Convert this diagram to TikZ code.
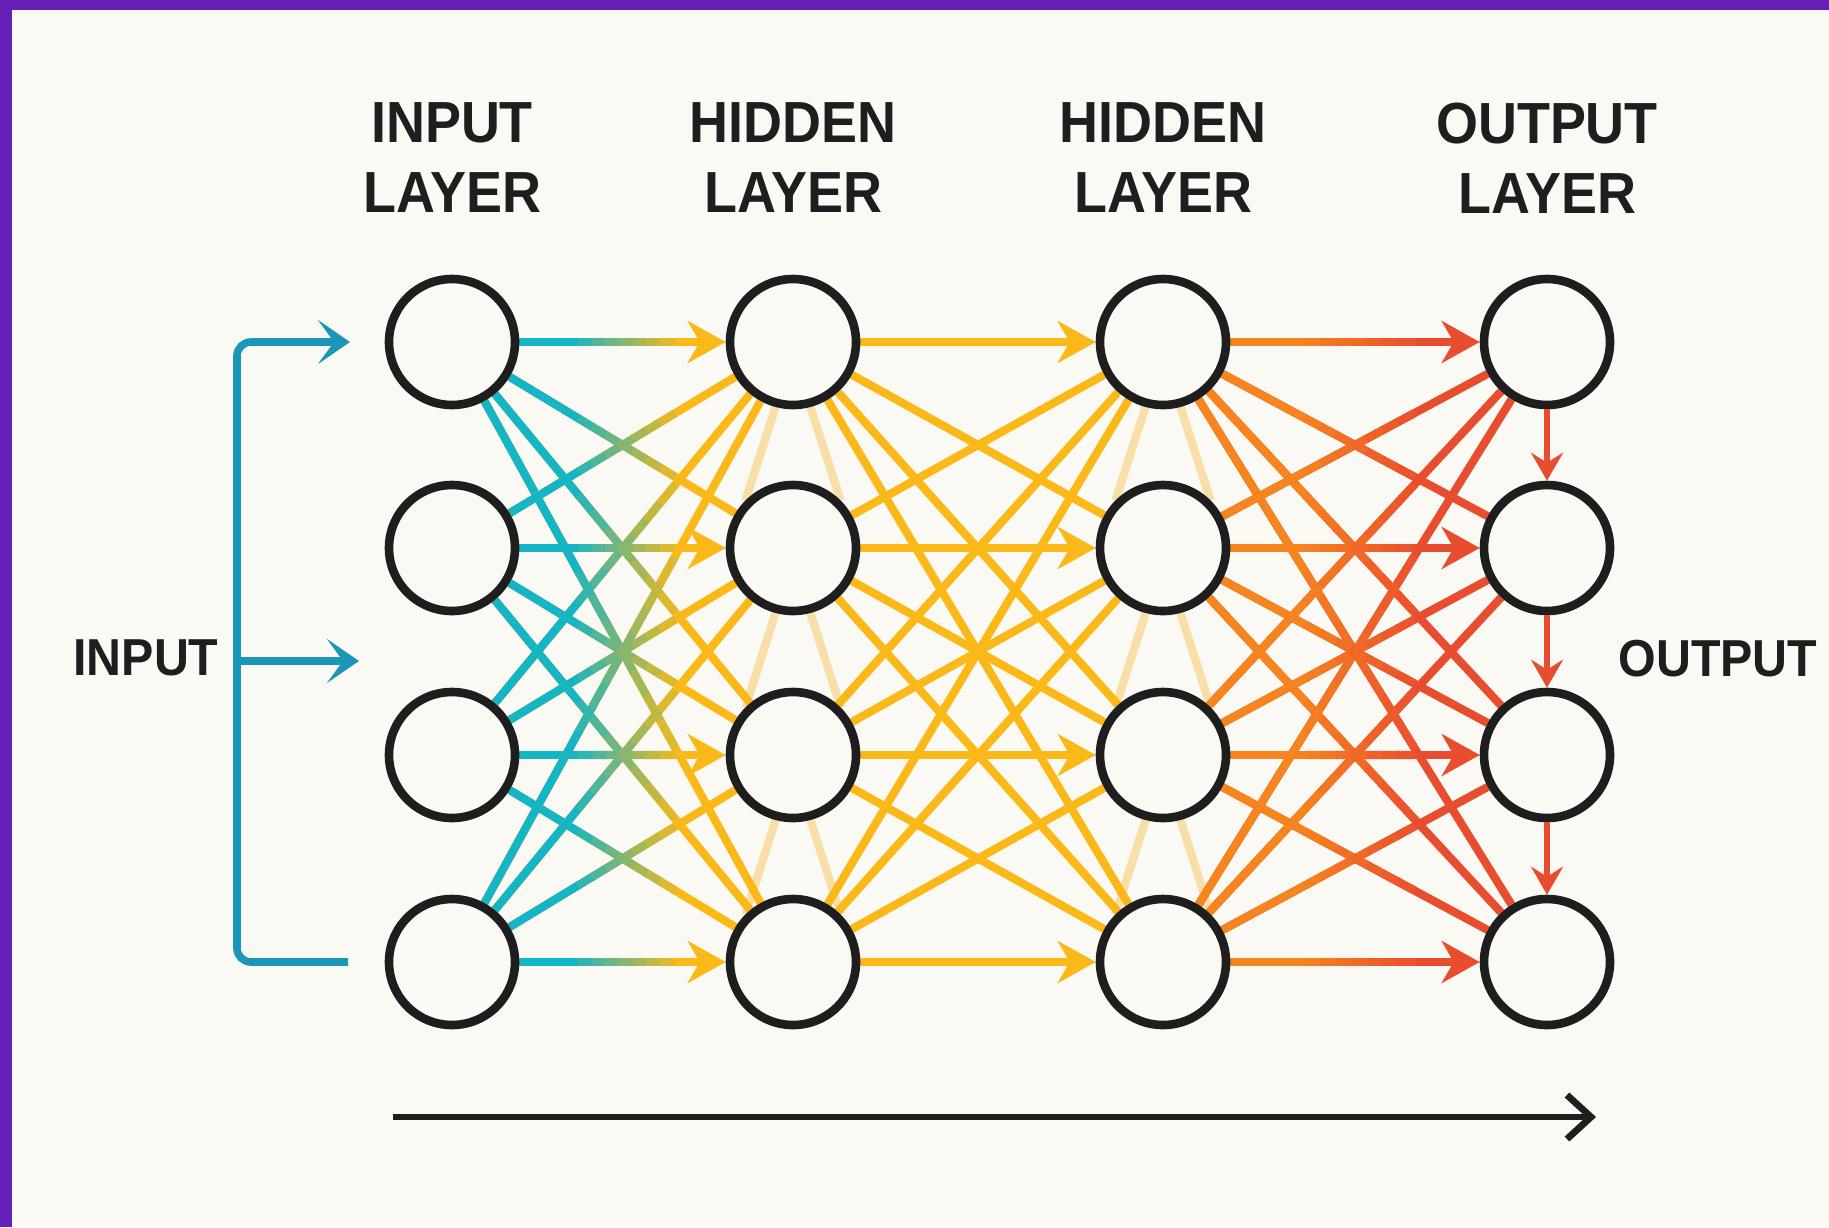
\documentclass[tikz,border=0pt]{standalone}
\usepackage{fontspec}
\newfontfamily\layerfont[FakeStretch=0.93]{Liberation Sans}
\usetikzlibrary{arrows.meta,calc}

\definecolor{paper}{HTML}{FAF9F4}
\definecolor{frame}{HTML}{6420B8}
\definecolor{ink}{HTML}{1E1E1E}
\definecolor{feedC}{HTML}{1A96B6}
\definecolor{tealE}{HTML}{14B5C5}
\definecolor{amberE}{HTML}{FBB919}
\definecolor{orangeE}{HTML}{F7851F}
\definecolor{redE}{HTML}{E94D2F}
\definecolor{faintE}{HTML}{F8DFA8}

\pgfdeclarelayer{wires}
\pgfsetlayers{wires,main}

% edge that turns from colour #3 to colour #4 on its way
\newcommand\mixedge[5]{%
  \draw[wire, #4, #5] (#1) -- (#2);
  \draw[wire, #3] (#1) -- ($(#1)!0.375!(#2)$);
  \foreach \k in {1,...,7}{%
    \pgfmathsetmacro\mixpct{100-12.5*\k}%
    \draw[wire, draw=#3!\mixpct!#4] ($(#1)!{0.33+0.04*\k}!(#2)$) -- ($(#1)!{0.375+0.04*\k}!(#2)$);
  }%
}

\begin{document}
\begin{tikzpicture}
		[x=0.5pt, y=-0.5pt,
		neuron/.style ={circle, draw=ink, line width=4.3pt, fill=paper, minimum size=63pt, inner sep=0pt},
		heading/.style ={align=center, text=ink, inner sep=0pt, font=\layerfont\bfseries\fontsize{29pt}{35pt}\selectfont},
		sidelabel/.style ={text=ink, inner sep=0pt, font=\layerfont\bfseries\fontsize{26pt}{30pt}\selectfont},
		wire/.style ={line width=4.1pt},
		tipped/.style ={-{Stealth[length=19pt, width=21pt, inset=6pt]}},
		maybetip/.code 2 args={\ifnum#1=#2\relax\pgfkeysalso{tipped}\fi},
		faint/.style ={wire, draw=faintE},
		feed/.style ={line width=3.8pt, draw=feedC},
		feedtip/.style ={-{Stealth[length=16pt, width=22pt, inset=8pt]}},
		drop/.style ={line width=3pt, draw=redE, -{Stealth[length=14pt, width=16pt, inset=5pt]}},
		flow/.style ={line width=3.4pt, draw=ink, -{Straight Barb[length=12pt, width=22pt]}},
		]
		
		\useasboundingbox (0,0) rectangle (1829,1227);
		
		\foreach \c/\x in {1/452,2/793,3/1163,4/1547}
			\foreach \r/\y in {1/342,2/548,3/755,4/962}
				\node[neuron] (n\c\r) at (\x,\y) {};
		
		\node[heading] (h1) at (452,158) {INPUT\\LAYER};
		\node[heading] (h2) at (793,158) {HIDDEN\\LAYER};
		\node[heading] (h3) at (1163,158) {HIDDEN\\LAYER};
		\node[heading] (h4) at (1547,158) {OUTPUT\\LAYER};
		
		\node[sidelabel] (inLbl) at (146,658) {INPUT};
		\node[sidelabel] (outLbl) at (1718,659) {OUTPUT};
		
		\coordinate (feedTop) at (350,342);
		\coordinate (feedMid) at (359,661);
		\coordinate (feedBot) at (348,962);
		\coordinate (feedSpine) at (237,661);
		\draw[feed, feedtip, rounded corners=7pt]
		(feedBot) -- (feedBot -| feedSpine) -- (feedTop -| feedSpine) -- (feedTop);
		\draw[feed, feedtip] (feedSpine) -- (feedMid);
		
		\foreach \r/\s in {1/2,2/3,3/4}
			\draw[drop] (n4\r) -- (n4\s);
		
		\coordinate (flowStart) at (393,1117);
		\coordinate (flowEnd) at (1596,1117);
		\draw[flow] (flowStart) -- (flowEnd);
		
		\begin{pgfonlayer}{wires}
			\fill[paper] (0,0) rectangle (1829,1227);
			\fill[frame] (0,0) rectangle (1829,10);
			\fill[frame] (0,0) rectangle (12,1227);
			\foreach \c in {2,3}
				\foreach \r/\s in {1/2,2/3,3/4}{
					\draw[faint] (n\c\r.-105) -- (n\c\s.135);
					\draw[faint] (n\c\r.-75) -- (n\c\s.45);
				}
			\foreach \i in {1,...,4}
				\foreach \j in {1,...,4}{
					\mixedge{n1\i}{n2\j}{tealE}{amberE}{maybetip={\i}{\j}}
					\draw[wire, amberE, maybetip={\i}{\j}] (n2\i) -- (n3\j);
					\mixedge{n3\i}{n4\j}{orangeE}{redE}{maybetip={\i}{\j}}
				}
		\end{pgfonlayer}
		
	\end{tikzpicture}
\end{document}
